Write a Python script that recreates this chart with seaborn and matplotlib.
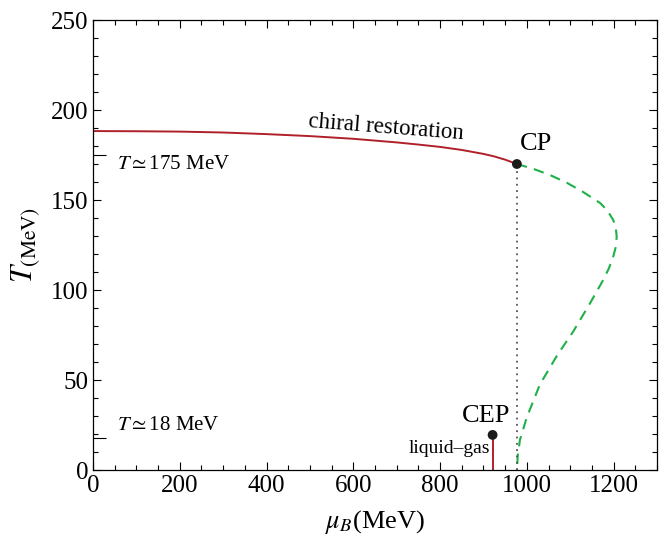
import numpy as np
import pandas as pd
import matplotlib
matplotlib.use("Agg")
import matplotlib.pyplot as plt
import seaborn as sns
from matplotlib.ticker import MultipleLocator

# chiral restoration line (crossover)
mu_chiral = [0, 100, 200, 300, 400, 500, 600, 700, 750, 800, 850, 900, 925, 950, 977]
T_chiral = [188.3, 188.2, 188.0, 187.5, 186.6, 185.5, 184.0, 182.0, 180.8, 179.5, 177.8,
            175.6, 174.2, 172.4, 170.0]

# first order line (dashed green), from CP down to T = 0
mu_first = [977, 1015, 1053, 1092, 1130, 1169, 1186, 1199, 1205, 1207, 1205, 1199, 1189,
            1176, 1146, 1123, 1107, 1070, 1030, 1000, 984, 979, 977]
T_first = [170.0, 167.3, 163.9, 159.6, 154.4, 148.3, 144.0, 138.9, 134.5, 129.6, 124.0,
           118.5, 112.0, 105.6, 92.8, 83.5, 77.0, 63.8, 47.5, 29.4, 16.7, 8.0, 0.0]

# special points
cp = (977, 170)
cep = (921, 19.5)
marked_T = [175, 18]
marked_label_T = [169.5, 25]
marked_labels = [r"$T \simeq$175 MeV", r"$T \simeq$18 MeV"]

df_chiral = pd.DataFrame({"mu": mu_chiral, "T": T_chiral})
df_first = pd.DataFrame({"mu": mu_first, "T": T_first})
df_pts = pd.DataFrame({"mu": [cp[0], cep[0]], "T": [cp[1], cep[1]]})

sns.set_theme(style="ticks")
plt.rcParams["font.family"] = ["Liberation Serif", "DejaVu Serif"]
plt.rcParams["mathtext.fontset"] = "stix"
plt.rcParams["text.color"] = "black"
plt.rcParams["axes.labelcolor"] = "black"

fig = plt.figure(figsize=(6.61, 5.45), dpi=100)
ax = fig.add_axes([0.1407, 0.1376, 0.8533, 0.8257])

red = "#b0202a"
green = "#1fb04a"

sns.lineplot(data=df_chiral, x="mu", y="T", ax=ax, color=red, lw=1.4,
             sort=False, estimator=None)
sns.lineplot(data=df_first, x="mu", y="T", ax=ax, color=green, lw=1.5,
             sort=False, estimator=None, linestyle=(0, (5, 3.5)))
ax.vlines(cp[0], 0, cp[1], color="#555555", lw=1.3, linestyles=(0, (1, 2.5)))
ax.vlines(cep[0], 0, cep[1], color=red, lw=1.4)
sns.scatterplot(data=df_pts, x="mu", y="T", ax=ax, color="#1a1a1a", s=50,
                edgecolor="none", zorder=5)

# marked temperatures on the left axis
ax.hlines(marked_T, 0, 30, color="black", lw=0.8)
for t, lab in zip(marked_label_T, marked_labels):
    ax.text(55, t, lab, fontsize=15, va="center", ha="left")

ax.text(675, 190, "chiral restoration", fontsize=16.5, ha="center",
        va="center", rotation=-4.5)
ax.text(1020, 181, "CP", fontsize=19, ha="center", va="center")
ax.text(905, 30, "CEP", fontsize=19, ha="center", va="center")
ax.text(915, 12, "liquid\u2013gas", fontsize=14, ha="right", va="center")

ax.set_xlim(0, 1300)
ax.set_ylim(0, 250)
ax.xaxis.set_major_locator(MultipleLocator(200))
ax.xaxis.set_minor_locator(MultipleLocator(50))
ax.yaxis.set_major_locator(MultipleLocator(50))
ax.yaxis.set_minor_locator(MultipleLocator(10))
ax.tick_params(which="both", direction="in", top=True, right=True,
               labelsize=18, colors="black", width=0.8)
ax.tick_params(which="major", length=6)
ax.tick_params(which="minor", length=3.5)
for s in ax.spines.values():
    s.set_linewidth(0.9)
    s.set_color("black")

ax.set_xlabel(r"$\mu_B$(MeV)", fontsize=19, labelpad=8)
ax.set_ylabel(r"$T_{\mathrm{(MeV)}}$", fontsize=22, labelpad=6)

fig.savefig("out.png", dpi=100)
